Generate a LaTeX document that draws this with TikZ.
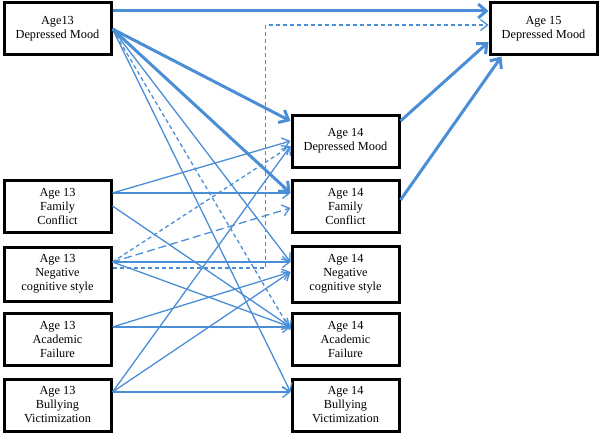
\documentclass[tikz,border=0pt]{standalone}
\usepackage{fontspec}
\setmainfont{Liberation Serif}
\usetikzlibrary{positioning,arrows.meta,calc}
\definecolor{pathblue}{RGB}{74,142,214}

\begin{document}
\begin{tikzpicture}[x=1pt, y=1pt,
    box/.style={draw=black, line width=3pt, fill=white, minimum width=107pt, minimum height=52pt,
      inner sep=1pt, align=center, font=\fontsize{12.3}{14}\selectfont},
    link/.style={draw=pathblue, line width=1.3pt, -{Straight Barb[length=7pt, width=11pt]}},
    strong/.style={draw=pathblue, line width=3pt, -{Straight Barb[length=8pt, width=14pt]}},
    shortdash/.style={link, dash pattern=on 4pt off 3pt},
    longdash/.style={link, dash pattern=on 8pt off 4pt}]
  \useasboundingbox (0,0) rectangle (600,-436);

  % age 13
  \node[box] (DM13) at (57.5,-29) {Age13\\Depressed Mood};
  \node[box, below=122pt of DM13] (FC13) {Age 13\\Family\\Conflict};
  \node[box, minimum height=54pt, below=12pt of FC13] (NC13) {Age 13\\Negative\\cognitive style};
  \node[box, below=9pt of NC13] (AF13) {Age 13\\Academic\\Failure};
  \node[box, below=11pt of AF13] (BV13) {Age 13\\Bullying\\Victimization};

  % age 14
  \node[box, right=178pt of FC13] (FC14) {Age 14\\Family\\Conflict};
  \node[box, above=10pt of FC14] (DM14) {Age 14\\Depressed Mood};
  \node[box, minimum height=56pt, right=178pt of NC13] (NC14) {Age 14\\Negative\\cognitive style};
  \node[box, right=178pt of AF13] (AF14) {Age 14\\Academic\\Failure};
  \node[box, right=178pt of BV13] (BV14) {Age 14\\Bullying\\Victimization};

  % age 15
  \node[box, right=376pt of DM13] (DM15) {Age 15\\Depressed Mood};
  \coordinate (bend) at ($(DM14.west |- DM15.west)+(-25,4)$);

  % paths to age 15
  \draw[strong] ($(DM13.east)+(0,18)$) -- ($(DM15.west)+(0,18)$);
  \draw[shortdash] ($(NC13.east)+(0,6)$) -| (bend) -- ($(DM15.west)+(0,4)$);
  \draw[strong] ($(DM14.east)+(0,20)$) -- ($(DM15.west)+(0,-13)$);
  \draw[strong] ($(FC14.east)+(0,6)$) -- ($(DM15.south west)+(13,0)$);

  % from depressed mood 13
  \draw[strong] (DM13.east) -- ($(DM14.west)+(0,20)$);
  \draw[strong] (DM13.east) -- ($(FC14.west)+(0,13)$);
  \draw[link] (DM13.east) -- ($(NC14.west)+(0,12)$);
  \draw[shortdash] (DM13.east) -- ($(AF14.west)+(0,9)$);
  \draw[link] (DM13.east) -- ($(BV14.west)+(0,13)$);

  % from family conflict 13
  \draw[link] ($(FC13.east)+(0,13)$) -- (DM14.west);
  \draw[link] ($(FC13.east)+(0,13)$) -- ($(FC14.west)+(0,13)$);
  \draw[link] (FC13.east) -- ($(AF14.west)+(0,12)$);

  % from negative cognitive style 13
  \draw[shortdash] ($(NC13.east)+(0,12)$) -- ($(DM14.west)+(0,-5)$);
  \draw[longdash] ($(NC13.east)+(0,12)$) -- ($(FC14.west)+(0,-2)$);
  \draw[link] ($(NC13.east)+(0,12)$) -- ($(NC14.west)+(0,12)$);
  \draw[link] ($(NC13.east)+(0,12)$) -- ($(AF14.west)+(0,12)$);

  % from academic failure 13
  \draw[link] ($(AF13.east)+(0,12)$) -- ($(NC14.west)+(0,2)$);
  \draw[link] ($(AF13.east)+(0,12)$) -- ($(AF14.west)+(0,12)$);

  % from bullying victimization 13
  \draw[link] ($(BV13.east)+(0,13)$) -- ($(DM14.west)+(0,-5)$);
  \draw[link] ($(BV13.east)+(0,13)$) -- ($(NC14.west)+(0,2)$);
  \draw[link] ($(BV13.east)+(0,13)$) -- ($(BV14.west)+(0,13)$);
\end{tikzpicture}
\end{document}
